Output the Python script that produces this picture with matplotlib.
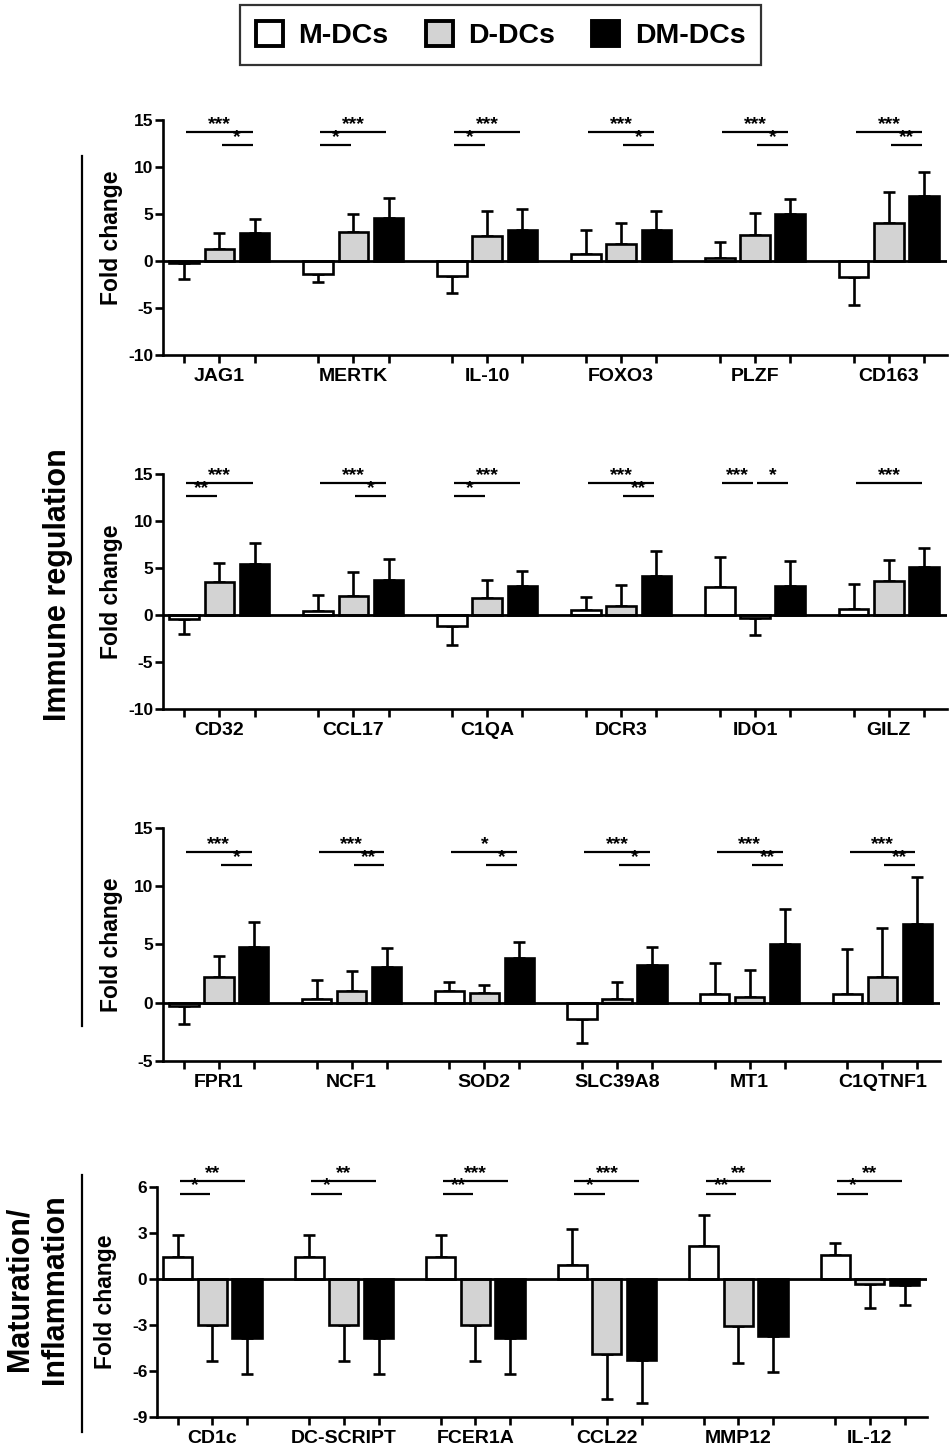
import numpy as np
import matplotlib
matplotlib.use('Agg')
from matplotlib import pyplot
from matplotlib.patches import Patch

pyplot.rcParams['font.family'] = ['Liberation Sans', 'DejaVu Sans']
pyplot.rcParams['font.weight'] = 'bold'
pyplot.rcParams['axes.unicode_minus'] = False

groups = ['M-DCs', 'D-DCs', 'DM-DCs']
colors = ['white', '#d3d3d3', 'black']

# panel 1 - immune regulation
genes_1 = ['JAG1', 'MERTK', 'IL-10', 'FOXO3', 'PLZF', 'CD163']
m_1 = [-0.25, -1.38, -1.6, 0.8, 0.28, -1.7]
d_1 = [1.24, 3.05, 2.66, 1.77, 2.77, 4.0]
dm_1 = [3.0, 4.57, 3.26, 3.26, 4.96, 6.95]
m_err_1 = [1.7, 0.9, 1.77, 2.5, 1.72, 3.0]
d_err_1 = [1.76, 1.95, 2.64, 2.23, 2.33, 3.34]
dm_err_1 = [1.5, 2.1, 2.31, 2.04, 1.64, 2.55]
sig_1 = [[(0, 2, '***'), (1, 2, '*')], [(0, 2, '***'), (0, 1, '*')],
         [(0, 2, '***'), (0, 1, '*')], [(0, 2, '***'), (1, 2, '*')],
         [(0, 2, '***'), (1, 2, '*')], [(0, 2, '***'), (1, 2, '**')]]

# panel 2
genes_2 = ['CD32', 'CCL17', 'C1QA', 'DCR3', 'IDO1', 'GILZ']
m_2 = [-0.43, 0.43, -1.17, 0.57, 3.0, 0.64]
d_2 = [3.52, 2.06, 1.78, 1.0, -0.28, 3.63]
dm_2 = [5.47, 3.73, 3.09, 4.12, 3.1, 5.08]
m_err_2 = [1.63, 1.74, 2.03, 1.35, 3.15, 2.66]
d_err_2 = [1.98, 2.53, 1.92, 2.23, 1.89, 2.2]
dm_err_2 = [2.13, 2.27, 1.61, 2.68, 2.62, 2.07]
sig_2 = [[(0, 2, '***'), (0, 1, '**')], [(0, 2, '***'), (1, 2, '*')],
         [(0, 2, '***'), (0, 1, '*')], [(0, 2, '***'), (1, 2, '**')],
         [(0, 1, '***'), (1, 2, '*')], [(0, 2, '***')]]

# panel 3
genes_3 = ['FPR1', 'NCF1', 'SOD2', 'SLC39A8', 'MT1', 'C1QTNF1']
m_3 = [-0.29, 0.29, 1.03, -1.43, 0.72, 0.72]
d_3 = [2.18, 1.0, 0.86, 0.34, 0.46, 2.18]
dm_3 = [4.79, 3.07, 3.85, 3.21, 5.02, 6.77]
m_err_3 = [1.52, 1.66, 0.78, 2.07, 2.69, 3.93]
d_err_3 = [1.81, 1.7, 0.69, 1.44, 2.35, 4.22]
dm_err_3 = [2.18, 1.61, 1.32, 1.61, 3.01, 3.99]
sig_3 = [[(0, 2, '***'), (1, 2, '*')], [(0, 2, '***'), (1, 2, '**')],
         [(0, 2, '*'), (1, 2, '*')], [(0, 2, '***'), (1, 2, '*')],
         [(0, 2, '***'), (1, 2, '**')], [(0, 2, '***'), (1, 2, '**')]]

# panel 4 - maturation / inflammation
genes_4 = ['CD1c', 'DC-SCRIPT', 'FCER1A', 'CCL22', 'MMP12', 'IL-12']
m_4 = [1.46, 1.46, 1.46, 0.89, 2.13, 1.57]
d_4 = [-2.98, -2.98, -2.98, -4.89, -3.04, -0.33]
dm_4 = [-3.87, -3.87, -3.87, -5.26, -3.74, -0.41]
m_err_4 = [1.41, 1.41, 1.41, 2.39, 2.04, 0.8]
d_err_4 = [2.35, 2.35, 2.35, 2.91, 2.44, 1.58]
dm_err_4 = [2.35, 2.35, 2.35, 2.83, 2.35, 1.31]
sig_4 = [[(0, 2, '**'), (0, 1, '*')], [(0, 2, '**'), (0, 1, '*')],
         [(0, 2, '***'), (0, 1, '**')], [(0, 2, '***'), (0, 1, '*')],
         [(0, 2, '**'), (0, 1, '**')], [(0, 2, '**'), (0, 1, '*')]]

spacing = 3.8
lw = 1.9


def draw_panel(ax, genes, vals, errs, sigs, yticks, levels):
    n = len(genes)
    base = np.arange(n) * spacing
    for k in range(3):
        x = base + k
        v = np.array(vals[k])
        e = np.array(errs[k])
        ax.bar(x, v, width=0.84, color=colors[k], edgecolor='black', linewidth=lw, zorder=3)
        lo = np.where(v < 0, e, 0)
        hi = np.where(v >= 0, e, 0)
        ax.errorbar(x, v, yerr=[lo, hi], fmt='none', ecolor='black', elinewidth=lw,
                    capsize=4.3, capthick=lw, zorder=2)
    ax.axhline(0, color='black', lw=2.0, zorder=4)

    ticks = np.concatenate([base + k for k in range(3)])
    ticks.sort()
    labels = []
    for g in genes:
        labels += ['', g, '']
    ax.set_xticks(ticks)
    ax.set_xticklabels(labels)
    ax.set_xlim(-0.6, (n - 1) * spacing + 2.65)
    ax.set_yticks(yticks)
    ax.set_ylim(yticks[0], yticks[-1])

    for s in ['top', 'right']:
        ax.spines[s].set_visible(False)
    for s in ['left', 'bottom']:
        ax.spines[s].set_linewidth(lw)
    ax.tick_params(axis='both', width=lw, length=5.5, direction='out')
    ax.tick_params(axis='y', labelsize=12.5, pad=1.5)
    ax.tick_params(axis='x', labelsize=14, pad=4)

    ax.text(-0.066 * 784 / (ax.get_position().width * 950), 0.5, 'Fold change',
            transform=ax.transAxes, rotation=90, ha='center', va='center', fontsize=16.5)

    # significance bars; a comparison that overlaps one already on a row drops a row
    for gi, comps in enumerate(sigs):
        rows = []
        for (i, j, lab) in comps:
            r = 0
            while any(r == rr and not (j <= a or i >= b) for (a, b, rr) in rows):
                r += 1
            rows.append((i, j, r))
            x0 = base[gi] + i + 0.06
            x1 = base[gi] + j - 0.06
            y = levels[r]
            ax.plot([x0, x1], [y, y], color='black', lw=1.6, clip_on=False, solid_capstyle='butt')
            ax.annotate(lab, ((x0 + x1) / 2, y), xytext=(0, 2.6), textcoords='offset points',
                        ha='center', va='baseline', fontsize=14, annotation_clip=False)


fig = pyplot.figure(figsize=(9.5, 14.48), dpi=100)

ax1 = fig.add_axes([0.1716, 0.7548, 0.8253, 0.1623])
draw_panel(ax1, genes_1, [m_1, d_1, dm_1], [m_err_1, d_err_1, dm_err_1], sig_1,
           [-10, -5, 0, 5, 10, 15], [13.7, 12.3])
ax2 = fig.add_axes([0.1716, 0.5104, 0.8253, 0.1623])
draw_panel(ax2, genes_2, [m_2, d_2, dm_2], [m_err_2, d_err_2, dm_err_2], sig_2,
           [-10, -5, 0, 5, 10, 15], [14.0, 12.6])
ax3 = fig.add_axes([0.1716, 0.2673, 0.8179, 0.1609])
draw_panel(ax3, genes_3, [m_3, d_3, dm_3], [m_err_3, d_err_3, dm_err_3], sig_3,
           [-5, 0, 5, 10, 15], [12.9, 11.8])
ax4 = fig.add_axes([0.1653, 0.0214, 0.8105, 0.1588])
draw_panel(ax4, genes_4, [m_4, d_4, dm_4], [m_err_4, d_err_4, dm_err_4], sig_4,
           [-9, -6, -3, 0, 3, 6], [6.37, 5.54])

# section labels on the left
fig.add_artist(pyplot.Line2D([82 / 950, 82 / 950], [1 - 156 / 1448, 1 - 1026 / 1448],
                             color='black', lw=1.6))
fig.text(58 / 950, 1 - 585 / 1448, 'Immune regulation', rotation=90, ha='center',
         va='center', fontsize=22)
fig.add_artist(pyplot.Line2D([82 / 950, 82 / 950], [1 - 1175 / 1448, 1 - 1432 / 1448],
                             color='black', lw=1.6))
fig.text(37 / 950, 1 - 1289 / 1448, 'Maturation/\nInflammation', rotation=90, ha='center',
         va='center', fontsize=22, multialignment='center', linespacing=1.25)

handles = [Patch(facecolor=c, edgecolor='black', linewidth=2.8) for c in colors]
leg = fig.legend(handles, groups, loc='center', bbox_to_anchor=(0.527, 0.9758), ncol=3,
                 prop={'size': 20.5, 'weight': 'bold'}, frameon=True, fancybox=False,
                 edgecolor='black', handlelength=0.95, handleheight=0.95,
                 handletextpad=0.55, columnspacing=1.3, borderpad=0.55)
leg.get_frame().set_linewidth(1.6)

fig.savefig('out.png', dpi=100)
